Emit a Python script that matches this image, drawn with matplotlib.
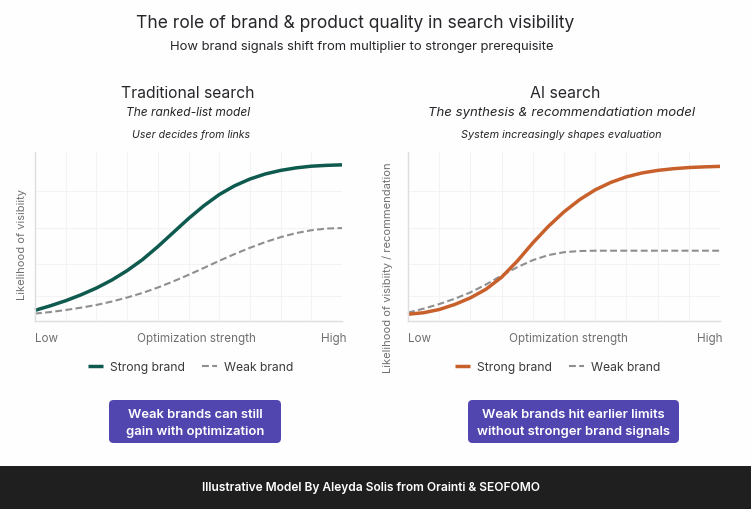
from matplotlib import pyplot as plt
from matplotlib.patches import FancyBboxPatch, Rectangle

plt.switch_backend('Agg')
plt.rcParams['font.family'] = ['Inter', 'DejaVu Sans']

WIDTH, HEIGHT = 751, 510

x_pos = [0, 5, 10, 15, 20, 25, 30, 35, 40, 45, 50, 55, 60, 65, 70, 75, 80, 85, 90, 95, 100]

trad_strong = [6.3, 9.0, 12.0, 15.5, 19.5, 24.2, 29.8, 36.3, 44.0, 52.3, 60.6,
               68.2, 74.8, 80.0, 84.0, 87.0, 89.1, 90.6, 91.6, 92.1, 92.4]
trad_weak = [4.4, 5.3, 6.5, 7.9, 9.5, 11.5, 13.9, 16.6, 19.8, 23.4, 27.3,
             31.4, 35.6, 39.6, 43.3, 46.7, 49.6, 52.0, 53.7, 54.7, 55.0]
ai_strong = [4.0, 4.9, 6.8, 9.8, 13.7, 18.8, 25.9, 35.4, 46.2, 56.0, 64.6,
             71.8, 77.6, 82.0, 85.3, 87.6, 89.1, 90.1, 90.8, 91.2, 91.5]
ai_weak = [5.0, 7.3, 10.0, 13.2, 16.9, 21.6, 26.9, 31.8, 36.0, 39.0, 40.7,
           41.4, 41.6, 41.6, 41.6, 41.6, 41.6, 41.6, 41.6, 41.6, 41.6]

x_grid = [10, 20, 30, 40, 50, 60, 70, 80, 90]
y_grid = [14.5, 33.7, 55, 76.8]

GREEN = '#0f5a4f'
ORANGE = '#c8602c'
GRAY = '#8f8f8f'
PURPLE = '#5145b0'
TEXT = '#26262b'
MUTED = '#6f6f6f'


def px_text(fig, x, y, text, **kwargs):
    kwargs.setdefault('ha', 'center')
    kwargs.setdefault('va', 'center')
    kwargs.setdefault('color', TEXT)
    fig.text(x / WIDTH, 1 - y / HEIGHT, text, **kwargs)


def add_panel(fig, left, right, strong, weak, color, center_x, high_x, legend_x):
    top, bottom = 153, 322
    axis = fig.add_axes([left / WIDTH, 1 - bottom / HEIGHT,
                         (right - left) / WIDTH, (bottom - top) / HEIGHT])
    axis.patch.set_alpha(0)
    axis.set_xlim(0, 100)
    axis.set_ylim(0, 100)
    axis.set_xticks(x_grid)
    axis.set_yticks(y_grid)
    axis.tick_params(length=0, labelbottom=False, labelleft=False)
    axis.grid(True, color='#f3f3f3', linewidth=0.8)
    axis.set_axisbelow(True)
    for side in ('top', 'right'):
        axis.spines[side].set_visible(False)
    for side in ('left', 'bottom'):
        axis.spines[side].set_color('#dedede')
        axis.spines[side].set_linewidth(1)

    weak_line, = axis.plot(x_pos, weak, color=GRAY, linewidth=1.5, dashes=(3.3, 1.6),
                           label='Weak brand', clip_on=False)
    strong_line, = axis.plot(x_pos, strong, color=color, linewidth=2.5,
                             solid_capstyle='butt', label='Strong brand', clip_on=False)

    fig.legend(handles=[strong_line, weak_line], loc='center',
               bbox_to_anchor=(legend_x / WIDTH, 1 - 368 / HEIGHT), ncol=2, frameon=False,
               fontsize=8.75, labelcolor='#3a3a3a', handlelength=1.25, handletextpad=0.6,
               columnspacing=1.35, borderpad=0)

    px_text(fig, left, 339, 'Low', fontsize=8.4, color=MUTED, ha='left')
    px_text(fig, center_x, 339, 'Optimization strength', fontsize=8.4, color=MUTED)
    px_text(fig, high_x, 339, 'High', fontsize=8.4, color=MUTED, ha='right')
    return axis


fig = plt.figure(figsize=(WIDTH / 100, HEIGHT / 100), dpi=100, facecolor='#fefefe')

add_panel(fig, 35, 342, trad_strong, trad_weak, GREEN, 196, 346, 190.5)
add_panel(fig, 408, 720, ai_strong, ai_weak, ORANGE, 568, 722, 557.5)
px_text(fig, 22, 244, 'Likelihood of visibiity', rotation=90, fontsize=8.0, color=MUTED)
px_text(fig, 388, 268, 'Likelihood of visibiity / recommendation', rotation=90,
        fontsize=8.0, color=MUTED)

px_text(fig, 355, 24, 'The role of brand & product quality in search visibility', fontsize=12.55)
px_text(fig, 361.5, 47, 'How brand signals shift from multiplier to stronger prerequisite',
        fontsize=9.35)

px_text(fig, 188, 93, 'Traditional search', fontsize=11.3)
px_text(fig, 188, 113, 'The ranked-list model', fontsize=8.6, style='italic')
px_text(fig, 191, 135, 'User decides from links', fontsize=7.6, style='italic')

px_text(fig, 565, 93, 'AI search', fontsize=11.4)
px_text(fig, 561.5, 113, 'The synthesis & recommendatiation model', fontsize=9.5, style='italic')
px_text(fig, 561.5, 135, 'System increasingly shapes evaluation', fontsize=7.8, style='italic')

# callout boxes and footer in pixel space
for x0, x1, line1, line2 in [(109, 281, 'Weak brands can still', 'gain with optimization'),
                             (468, 679, 'Weak brands hit earlier limits',
                              'without stronger brand signals')]:
    fig.add_artist(FancyBboxPatch((x0 / WIDTH, 1 - 444 / HEIGHT), (x1 - x0) / WIDTH, 43 / HEIGHT,
                                  boxstyle='round,pad=0,rounding_size=0.006',
                                  mutation_aspect=WIDTH / HEIGHT, facecolor=PURPLE,
                                  edgecolor='none', transform=fig.transFigure))
    px_text(fig, (x0 + x1) / 2, 415, line1, fontsize=9.4, color='white', weight='semibold')
    px_text(fig, (x0 + x1) / 2, 432, line2, fontsize=9.4, color='white', weight='semibold')

fig.add_artist(Rectangle((0, 0), 1, 43 / HEIGHT, facecolor='#1f1f1f', edgecolor='none',
                         transform=fig.transFigure))
px_text(fig, 371, 488, 'Illustrative Model By Aleyda Solis from Orainti & SEOFOMO',
        fontsize=8.65, color='white', weight='semibold')

fig.savefig('out.png', dpi=100, facecolor=fig.get_facecolor())
